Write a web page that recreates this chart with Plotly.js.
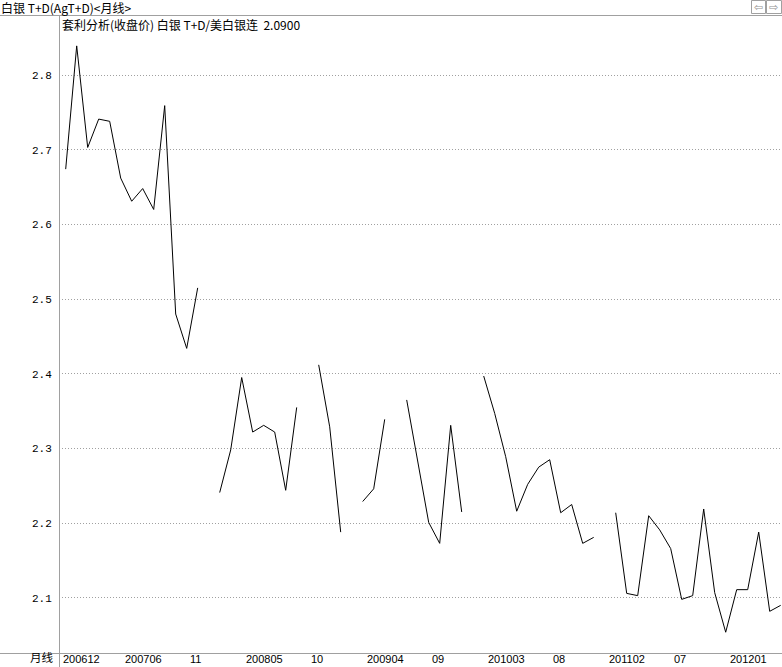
<!DOCTYPE html>
<html>
<head>
<meta charset="utf-8">
<script src="https://cdn.plot.ly/plotly-3.0.1.min.js"></script>
<style>
html,body{margin:0;padding:0;background:#fff;}
#chart{width:782px;height:667px;}
</style>
</head>
<body>
<div id="chart"></div>
<script>
// Monthly close ratio 白银 T+D / 美白银连, 200612 .. 201205 (null = no data)
const ratioValues = [
  2.674, 2.839, 2.703, 2.741, 2.738, 2.662, 2.631, 2.648, 2.620, 2.759, 2.480, 2.434, 2.515,
  null,
  2.241, 2.298, 2.395, 2.322, 2.331, 2.322, 2.244, 2.355,
  null,
  2.412, 2.329, 2.188,
  null,
  2.229, 2.246, 2.339,
  null,
  2.365, 2.281, 2.201, 2.173, 2.331, 2.215,
  null,
  2.397, 2.347, 2.289, 2.216, 2.252, 2.275, 2.285, 2.214, 2.225, 2.173, 2.181,
  null,
  2.214, 2.106, 2.103, 2.210, 2.191, 2.166, 2.098, 2.103, 2.219, 2.107, 2.054, 2.111, 2.111, 2.188, 2.082, 2.090
];
const xTickLabels = ['200612','200706','11','200805','10','200904','09','201003','08','201102','07','201201'];
const xTickIndex  = [0, 6, 11, 17, 22, 28, 33, 39, 44, 50, 55, 61];
const yTickValues = [2.1, 2.2, 2.3, 2.4, 2.5, 2.6, 2.7, 2.8];
const titleText = '白银 T+D(AgT+D)<月线>';
const subtitleText = '套利分析(收盘价) 白银 T+D/美白银连  2.0900';
const periodLabel = '月线';

const W = 782, H = 667;
const M = {l: 59, r: 0, t: 16, b: 14};
const PW = W - M.l - M.r, PH = H - M.t - M.b;
const px2x = p => (p - M.l) / PW;           // pixel x -> paper x
const py2y = p => (H - M.b - p) / PH;       // pixel y -> paper y

const xIdx = ratioValues.map((_, i) => i);
const axisGray = '#a0a0a0';
const cjk = '"Noto Sans CJK SC", "DejaVu Sans", sans-serif';

const trace = {
  x: xIdx, y: ratioValues, type: 'scatter', mode: 'lines',
  line: {color: '#000', width: 1}, connectgaps: false, hoverinfo: 'skip'
};

const annotations = [];
xTickLabels.forEach((t, k) => {
  const shift = k === 0 ? -5 : (t.length > 2 ? -9 : 1);
  annotations.push({
    text: t, xref: 'x', yref: 'paper', x: xTickIndex[k], y: py2y(659.5),
    xanchor: 'left', yanchor: 'middle', xshift: shift, showarrow: false,
    font: {family: '"Liberation Sans", Arial, sans-serif', size: 11, color: '#000'}
  });
});
annotations.push({
  text: periodLabel, xref: 'paper', yref: 'paper', x: px2x(55), y: py2y(666),
  xanchor: 'right', yanchor: 'bottom', showarrow: false, borderpad: 0,
  font: {family: cjk, size: 11.5, color: '#000'}
});
annotations.push({
  text: titleText, xref: 'paper', yref: 'paper', x: px2x(-1), y: py2y(7),
  xanchor: 'left', yanchor: 'middle', showarrow: false,
  font: {family: cjk, size: 12, color: '#000'}
});
annotations.push({
  text: subtitleText, xref: 'paper', yref: 'paper', x: px2x(60), y: py2y(25),
  xanchor: 'left', yanchor: 'middle', showarrow: false,
  font: {family: cjk, size: 12, color: '#000'}
});
annotations.push({
  text: '⇦', xref: 'paper', yref: 'paper', x: px2x(758), y: py2y(7),
  xanchor: 'center', yanchor: 'middle', showarrow: false,
  font: {family: '"DejaVu Sans", sans-serif', size: 11, color: '#909090'}
});
annotations.push({
  text: '⇨', xref: 'paper', yref: 'paper', x: px2x(773.5), y: py2y(7),
  xanchor: 'center', yanchor: 'middle', showarrow: false,
  font: {family: '"DejaVu Sans", sans-serif', size: 11, color: '#909090'}
});

const shapes = [
  {type: 'line', xref: 'paper', yref: 'paper', x0: px2x(0), x1: px2x(782), y0: py2y(15.5), y1: py2y(15.5), line: {color: axisGray, width: 1}},
  {type: 'line', xref: 'paper', yref: 'paper', x0: px2x(0), x1: px2x(782), y0: py2y(653.5), y1: py2y(653.5), line: {color: axisGray, width: 1}},
  {type: 'line', xref: 'paper', yref: 'paper', x0: px2x(59.5), x1: px2x(59.5), y0: py2y(16), y1: py2y(667), line: {color: axisGray, width: 1}},
  {type: 'rect', xref: 'paper', yref: 'paper', x0: px2x(751.5), x1: px2x(765.5), y0: py2y(0.5), y1: py2y(13.5), line: {color: '#a0a0a0', width: 1}},
  {type: 'rect', xref: 'paper', yref: 'paper', x0: px2x(766.5), x1: px2x(781.5), y0: py2y(0.5), y1: py2y(13.5), line: {color: '#a0a0a0', width: 1}}
];

const layout = {
  width: W, height: H, margin: M,
  paper_bgcolor: '#fff', plot_bgcolor: '#fff', showlegend: false,
  xaxis: {
    range: [-0.609, 65.118], showgrid: false, zeroline: false, showline: false,
    showticklabels: false, ticks: '', fixedrange: true
  },
  yaxis: {
    range: [2.0262, 2.879], tickvals: yTickValues, ticktext: yTickValues.map(v => v.toFixed(1)),
    showgrid: true, gridcolor: '#a0a0a0', griddash: '1px,2px', gridwidth: 1,
    zeroline: false, showline: false, ticks: 'outside', ticklen: 4, tickcolor: 'rgba(0,0,0,0)',
    tickfont: {family: '"Liberation Mono", "DejaVu Sans Mono", monospace', size: 11, color: '#000'},
    fixedrange: true
  },
  annotations: annotations,
  shapes: shapes
};

Plotly.newPlot('chart', [trace], layout, {displayModeBar: false, staticPlot: true});
</script>
</body>
</html>
